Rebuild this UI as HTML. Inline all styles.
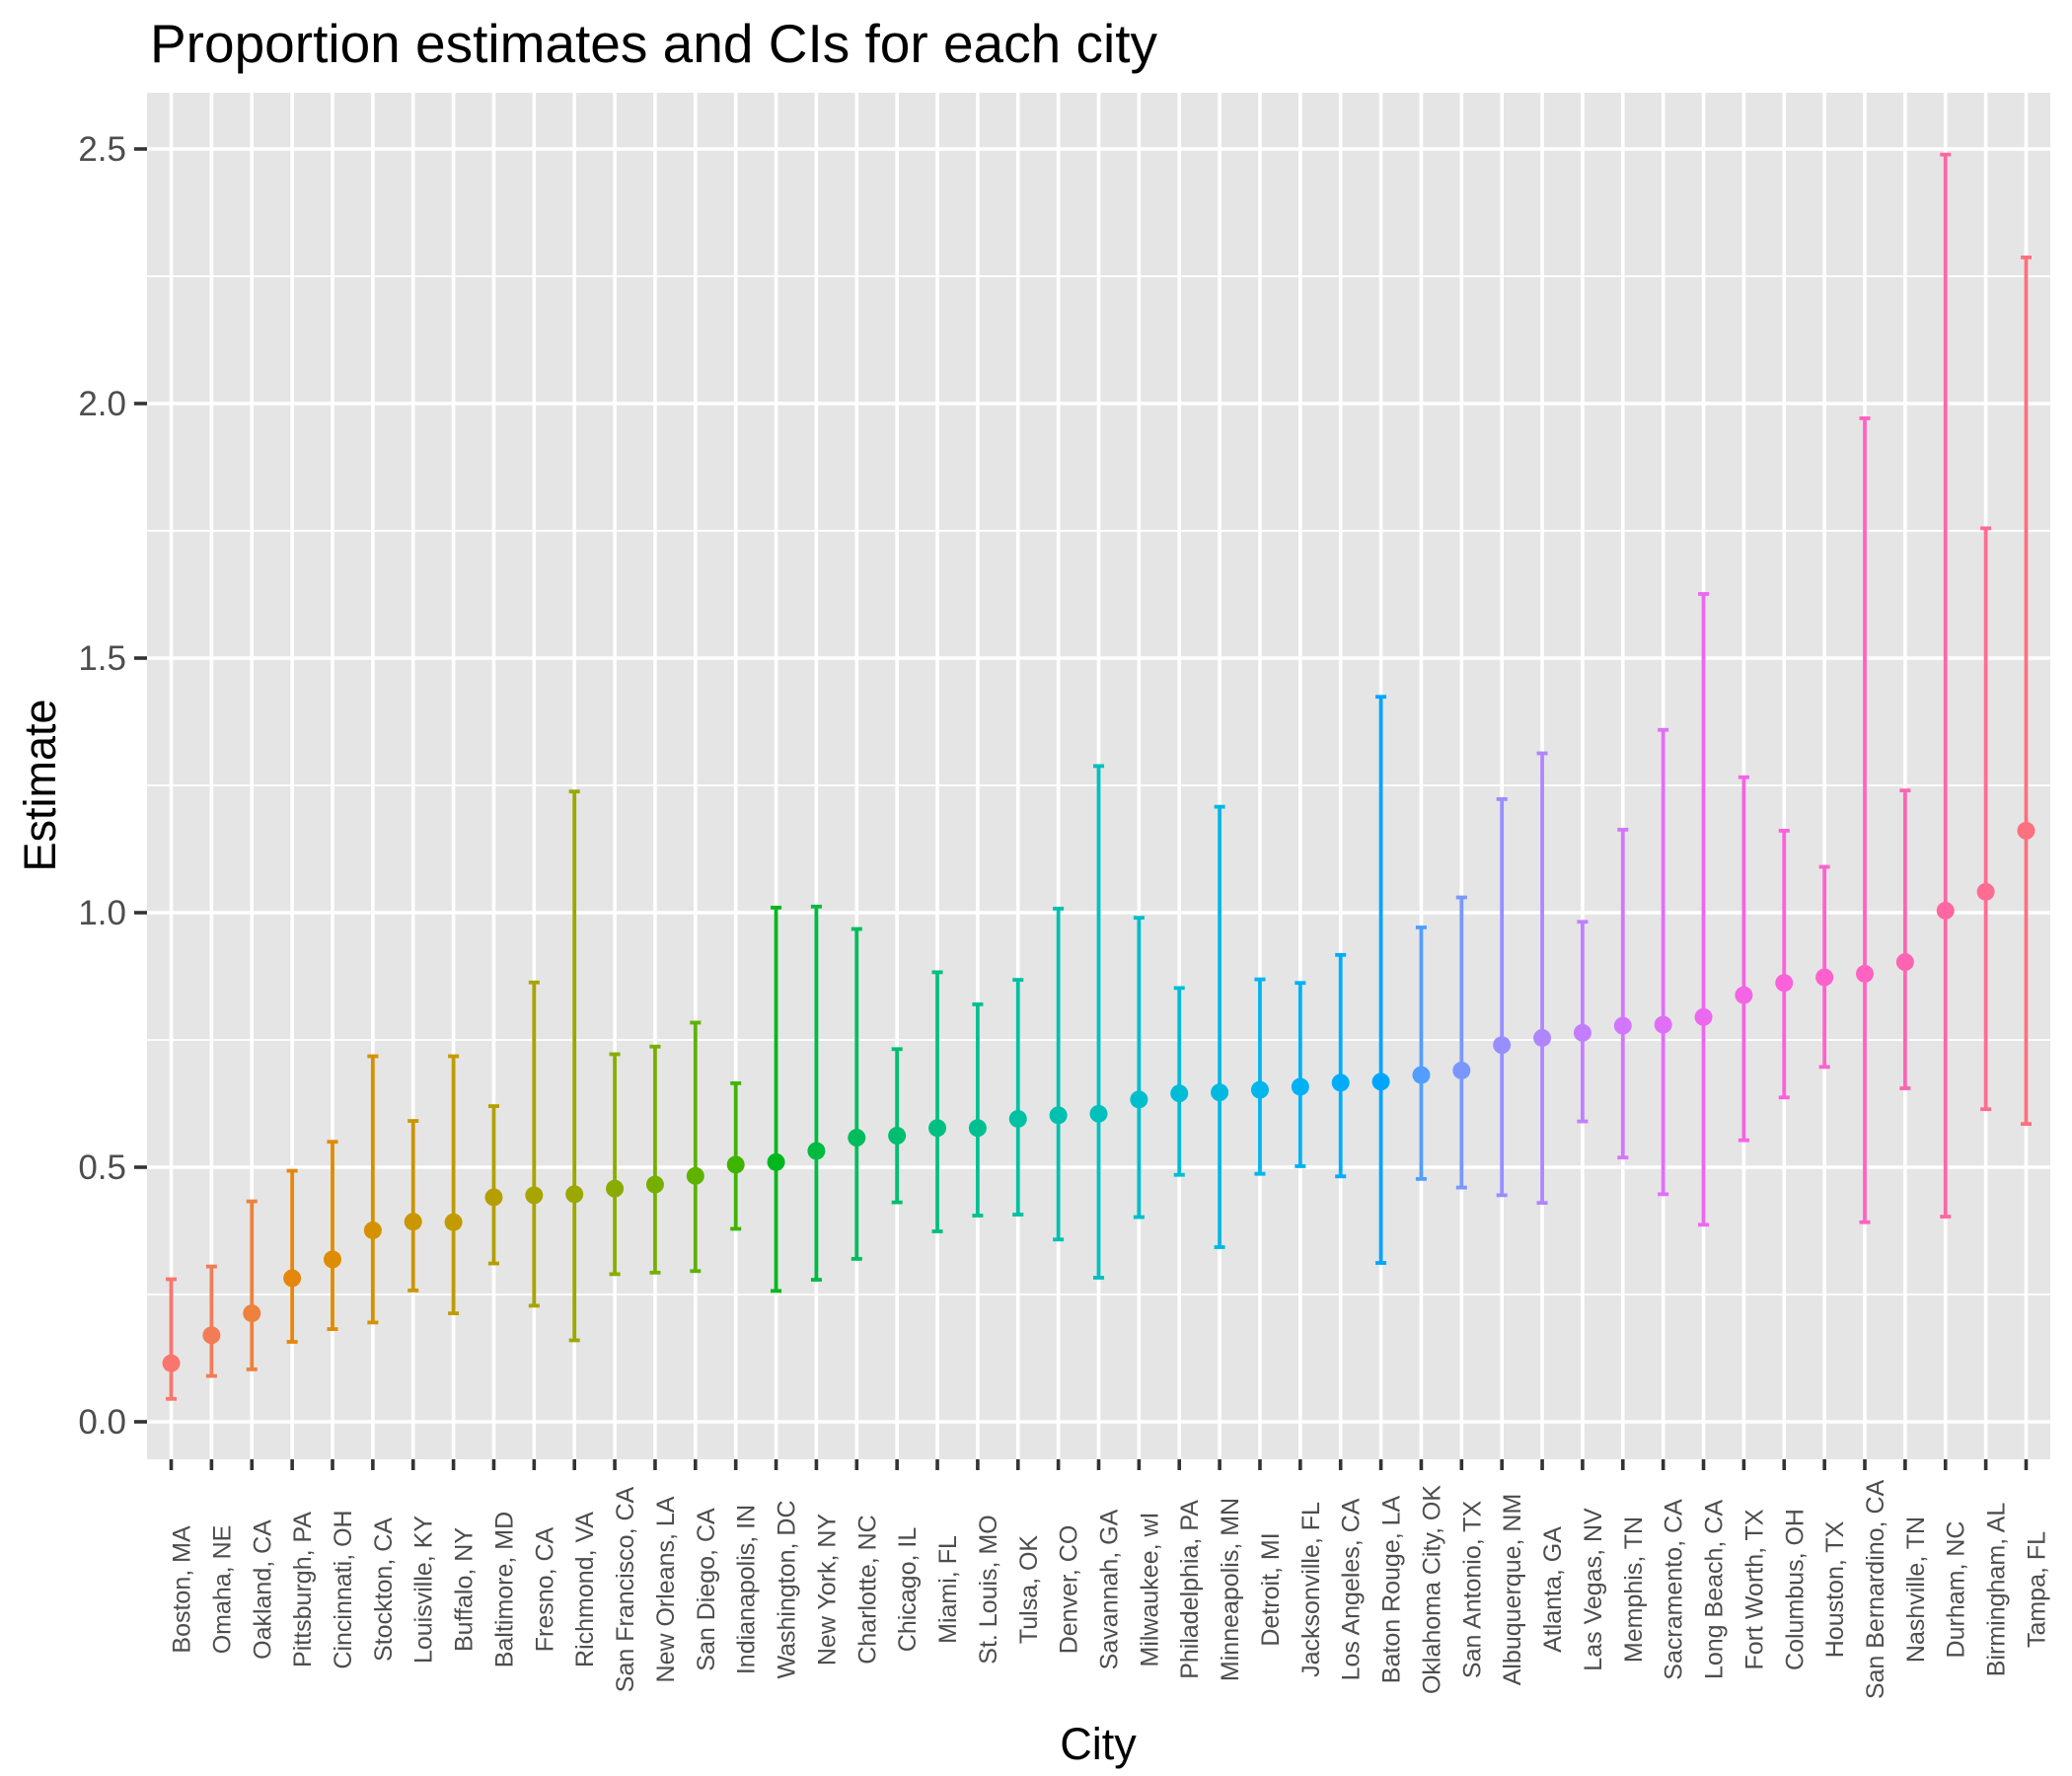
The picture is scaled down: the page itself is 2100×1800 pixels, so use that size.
<!DOCTYPE html>
<html><head><meta charset="utf-8">
<style>
html,body{margin:0;padding:0;background:#fff;}
svg{display:block;font-family:"Liberation Sans",Arial,sans-serif;}
</style></head>
<body>
<svg id="chart" width="2100" height="1800" viewBox="0 0 2100 1800" xmlns="http://www.w3.org/2000/svg">
<rect x="0" y="0" width="2100" height="1800" fill="#fff"/>
<text x="152" y="63" font-size="55" fill="#000">Proportion estimates and CIs for each city</text>
<rect x="149" y="94" width="1929" height="1385" fill="#e5e5e5"/>
<g id="grid"></g>
<g id="marks"></g>
<g id="axes"></g>
<text x="1113" y="1783" font-size="45" text-anchor="middle" fill="#000">City</text>
<text transform="translate(56,796) rotate(-90)" font-size="45" text-anchor="middle" fill="#000">Estimate</text>
</svg>
<script>
const cities = ["Boston, MA","Omaha, NE","Oakland, CA","Pittsburgh, PA","Cincinnati, OH","Stockton, CA","Louisville, KY","Buffalo, NY","Baltimore, MD","Fresno, CA","Richmond, VA","San Francisco, CA","New Orleans, LA","San Diego, CA","Indianapolis, IN","Washington, DC","New York, NY","Charlotte, NC","Chicago, IL","Miami, FL","St. Louis, MO","Tulsa, OK","Denver, CO","Savannah, GA","Milwaukee, wI","Philadelphia, PA","Minneapolis, MN","Detroit, MI","Jacksonville, FL","Los Angeles, CA","Baton Rouge, LA","Oklahoma City, OK","San Antonio, TX","Albuquerque, NM","Atlanta, GA","Las Vegas, NV","Memphis, TN","Sacramento, CA","Long Beach, CA","Fort Worth, TX","Columbus, OH","Houston, TX","San Bernardino, CA","Nashville, TN","Durham, NC","Birmingham, AL","Tampa, FL"];
const estimates = [0.115,0.17,0.213,0.282,0.319,0.376,0.393,0.392,0.441,0.445,0.447,0.458,0.466,0.483,0.505,0.51,0.532,0.558,0.562,0.577,0.577,0.595,0.602,0.605,0.633,0.645,0.647,0.652,0.658,0.666,0.668,0.681,0.69,0.74,0.754,0.764,0.778,0.78,0.795,0.838,0.862,0.873,0.88,0.903,1.004,1.041,1.161];
const lowerCI = [0.045,0.09,0.103,0.157,0.182,0.195,0.258,0.213,0.311,0.228,0.16,0.29,0.293,0.296,0.379,0.257,0.279,0.32,0.431,0.374,0.405,0.407,0.358,0.283,0.402,0.485,0.343,0.487,0.502,0.482,0.312,0.477,0.46,0.445,0.43,0.59,0.519,0.447,0.387,0.553,0.637,0.697,0.392,0.655,0.403,0.614,0.585];
const upperCI = [0.28,0.305,0.433,0.493,0.55,0.718,0.591,0.718,0.62,0.863,1.238,0.722,0.737,0.784,0.665,1.01,1.012,0.968,0.732,0.883,0.82,0.868,1.008,1.288,0.99,0.852,1.208,0.869,0.862,0.917,1.424,0.971,1.03,1.223,1.313,0.982,1.163,1.359,1.626,1.266,1.161,1.09,1.971,1.24,2.489,1.755,2.287];
const yTicks = [0,0.5,1.0,1.5,2.0,2.5];
const yTickLabels = ["0.0","0.5","1.0","1.5","2.0","2.5"];
const yMinor = [0.25,0.75,1.25,1.75,2.25];

const NS="http://www.w3.org/2000/svg";
const PL=149, PR=2078, PT=94, PB=1479;
const n = cities.length;
const step = (PR-PL)/(n-1+1.2);
function xs(i){return PL+(0.6+i)*step;}
function ys(v){return 1441 - v*(1441-151)/2.5;}
function hcl2rgb(h,c,l){
  const hr=h*Math.PI/180;
  const L=l, U=c*Math.cos(hr), V=c*Math.sin(hr);
  const Xn=95.047,Yn=100,Zn=108.883;
  const un=4*Xn/(Xn+15*Yn+3*Zn), vn=9*Yn/(Xn+15*Yn+3*Zn);
  const Y = L>8 ? Yn*Math.pow((L+16)/116,3) : Yn*L/903.3;
  const u=U/(13*L)+un, v=V/(13*L)+vn;
  const X=9*Y*u/(4*v), Z=-X/3-5*Y+3*Y/v;
  let r=( 3.240479*X-1.537150*Y-0.498535*Z)/100;
  let g=(-0.969256*X+1.875992*Y+0.041556*Z)/100;
  let b=( 0.055648*X-0.204043*Y+1.057311*Z)/100;
  const gam=t=>{t=t<=0.0031308?12.92*t:1.055*Math.pow(t,1/2.4)-0.055;return Math.round(Math.max(0,Math.min(1,t))*255);};
  return `rgb(${gam(r)},${gam(g)},${gam(b)})`;
}
function mk(tag,attrs,parent){const e=document.createElementNS(NS,tag);for(const k in attrs)e.setAttribute(k,attrs[k]);parent.appendChild(e);return e;}
const grid=document.getElementById('grid'), marks=document.getElementById('marks'), axes=document.getElementById('axes');
yMinor.forEach(v=>{
  const l=mk('line',{x1:PL,x2:PR,y1:ys(v),y2:ys(v),stroke:'#fff','stroke-width':1.8},grid);
  
  
});
yTicks.forEach((v,i)=>{
  const l=mk('line',{x1:PL,x2:PR,y1:ys(v),y2:ys(v),stroke:'#fff','stroke-width':3.6},grid);
  
  
  const t=mk('line',{x1:136,x2:149,y1:ys(v),y2:ys(v),stroke:'#333','stroke-width':3.6},axes);
  
  
  const tx=mk('text',{x:128,y:ys(v)+12,'font-size':35,'text-anchor':'end',fill:'#4d4d4d'},axes);
  tx.textContent=yTickLabels[i];
  
  
});
cities.forEach((c,i)=>{
  const x=xs(i);
  const l=mk('line',{x1:x,x2:x,y1:PT,y2:PB,stroke:'#fff','stroke-width':3.6},grid);
  
  
  const col=hcl2rgb(15+360*i/n,100,65);
  const g=mk('g',{},marks);
  
  
  const hw=step*0.135;
  mk('line',{x1:x,x2:x,y1:ys(lowerCI[i]),y2:ys(upperCI[i]),stroke:col,'stroke-width':3.8},g);
  mk('line',{x1:x-hw,x2:x+hw,y1:ys(lowerCI[i]),y2:ys(lowerCI[i]),stroke:col,'stroke-width':3.8},g);
  mk('line',{x1:x-hw,x2:x+hw,y1:ys(upperCI[i]),y2:ys(upperCI[i]),stroke:col,'stroke-width':3.8},g);
  mk('circle',{cx:x,cy:ys(estimates[i]),r:9,fill:col},g);
  const t=mk('line',{x1:x,x2:x,y1:PB,y2:PB+11,stroke:'#333','stroke-width':3.6},axes);
  
  
  const tx=mk('text',{transform:`translate(${x+19},1611) rotate(-90)`,'font-size':25,'text-anchor':'middle',fill:'#4d4d4d'},axes);
  tx.textContent=c;
  
  
});
</script>
</body></html>
